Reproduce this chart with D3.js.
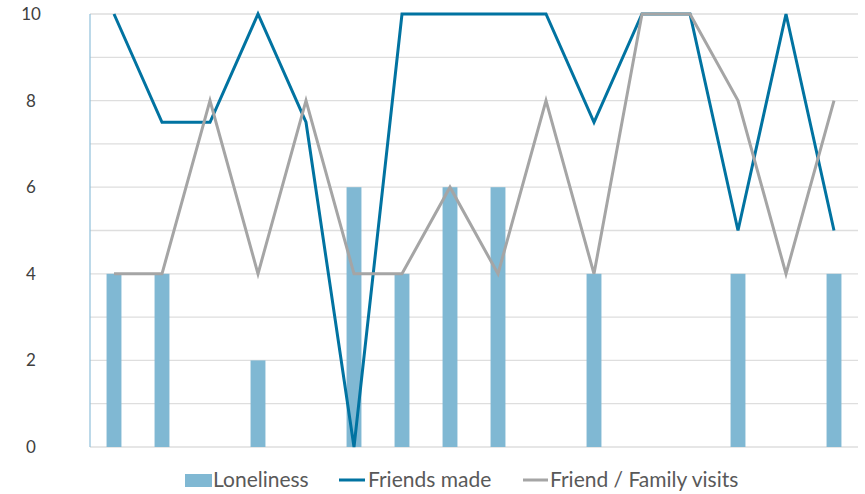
<!DOCTYPE html>
<html>
<head>
<meta charset="utf-8">
<script src="https://cdn.jsdelivr.net/npm/d3@7"></script>
<style>
  html, body { margin: 0; padding: 0; background: #fff; }
  svg { display: block; font-family: Lato, "Open Sans", sans-serif; }
</style>
</head>
<body>
<svg id="chart" width="865" height="494"></svg>
<script>
// Weekly entries
const days = ["1", "2", "3", "4", "5", "6", "7", "8", "9", "10", "11", "12", "13", "14", "15", "16"];
const loneliness = [4, 4, 0, 2, 0, 6, 4, 6, 6, 0, 4, 0, 0, 4, 0, 4];
const friendsMade = [10, 7.5, 7.5, 10, 7.5, 0, 10, 10, 10, 10, 7.5, 10, 10, 5, 10, 5];
const visits = [4, 4, 8, 4, 8, 4, 4, 6, 4, 8, 4, 10, 10, 8, 4, 8];
const yTicks = [0, 2, 4, 6, 8, 10];
const gridValues = [0, 1, 2, 3, 4, 5, 6, 7, 8, 9, 10];

const seriesNames = ["Loneliness", "Friends made", "Friend / Family visits"];
const colors = { bar: "#80b8d3", friends: "#0173a1", visits: "#a5a5a5" };

const svg = d3.select("#chart");
const plotLeft = 90, plotRight = 858, plotTop = 14, plotBottom = 447;

const x = d3.scaleBand().domain(days).range([plotLeft, plotRight]).padding(0);
const barX = d3.scaleBand().domain(days).range([plotLeft, plotRight]).paddingInner(0.69).paddingOuter(0.345);
const y = d3.scaleLinear().domain([0, 10]).range([plotBottom, plotTop]);

// gridlines
svg.append("g")
  .selectAll("line")
  .data(gridValues)
  .join("line")
  .attr("x1", plotLeft).attr("x2", plotRight)
  .attr("y1", d => y(d)).attr("y2", d => y(d))
  .attr("stroke", "#dedede").attr("stroke-width", 1.3);

// value axis
const yAxis = svg.append("g")
  .attr("transform", `translate(${plotLeft},0)`)
  .call(d3.axisLeft(y).tickValues(yTicks).tickSize(0).tickPadding(59).tickFormat(d3.format("d")));
yAxis.select(".domain").remove();
yAxis.selectAll("text")
  .attr("fill", "#404040")
  .style("font-size", "17px")
  .style("font-family", "Lato, sans-serif")
  .attr("text-anchor", "middle");

// vertical axis line
svg.append("line")
  .attr("x1", plotLeft).attr("x2", plotLeft)
  .attr("y1", plotTop).attr("y2", plotBottom)
  .attr("stroke", "#8fc0da").attr("stroke-width", 1.2);

// bars
svg.append("g")
  .selectAll("rect")
  .data(days.map((d, i) => ({ d, v: loneliness[i] })))
  .join("rect")
  .attr("x", p => barX(p.d))
  .attr("width", barX.bandwidth())
  .attr("y", p => y(p.v))
  .attr("height", p => y(0) - y(p.v))
  .attr("fill", colors.bar);

const line = d3.line()
  .x((v, i) => x(days[i]) + x.bandwidth() / 2)
  .y(v => y(v));

svg.append("path")
  .datum(friendsMade)
  .attr("d", line)
  .attr("fill", "none")
  .attr("stroke", colors.friends)
  .attr("stroke-width", 3)
  .attr("stroke-linejoin", "miter");

svg.append("path")
  .datum(visits)
  .attr("d", line)
  .attr("fill", "none")
  .attr("stroke", colors.visits)
  .attr("stroke-width", 3)
  .attr("stroke-linejoin", "miter");

// legend
const legend = svg.append("g").style("font-size", "21px").attr("fill", "#595959");
const legendY = 480;
legend.append("rect").attr("x", 185).attr("y", legendY - 6).attr("width", 27).attr("height", 13).attr("fill", colors.bar);
legend.append("text").attr("x", 213).attr("y", legendY).attr("dy", "0.35em").text(seriesNames[0]);
legend.append("line").attr("x1", 339).attr("x2", 365).attr("y1", legendY).attr("y2", legendY)
  .attr("stroke", colors.friends).attr("stroke-width", 3);
legend.append("text").attr("x", 368).attr("y", legendY).attr("dy", "0.35em").text(seriesNames[1]);
legend.append("line").attr("x1", 523).attr("x2", 548).attr("y1", legendY).attr("y2", legendY)
  .attr("stroke", colors.visits).attr("stroke-width", 3);
legend.append("text").attr("x", 550).attr("y", legendY).attr("dy", "0.35em").text(seriesNames[2]);
</script>
</body>
</html>
